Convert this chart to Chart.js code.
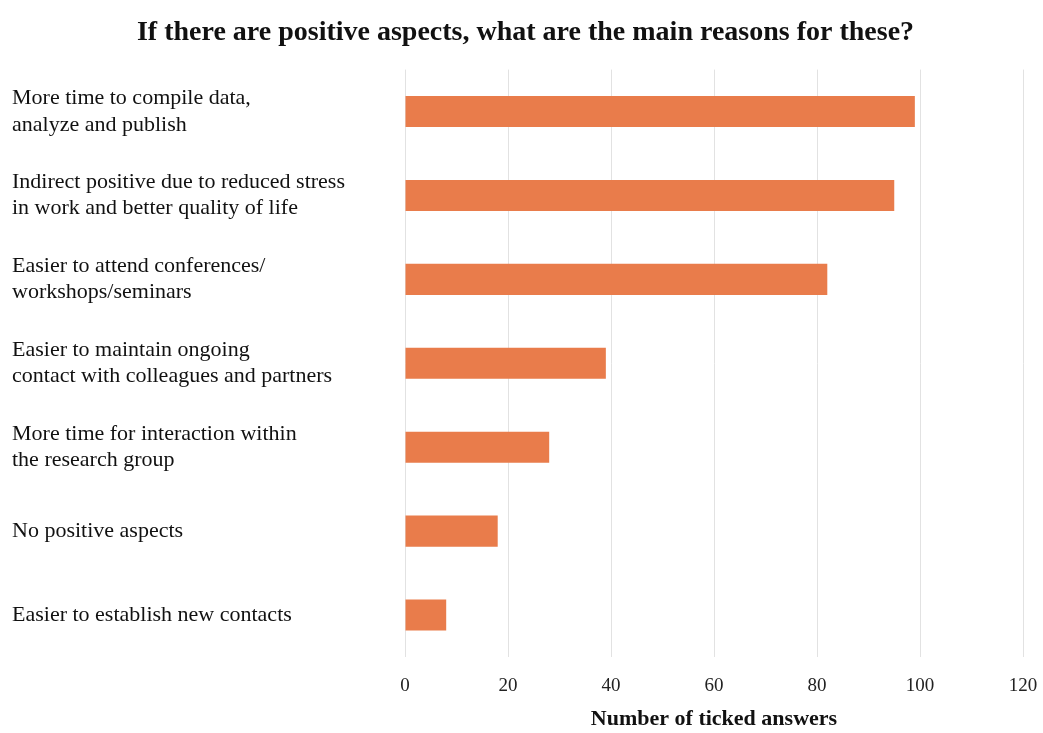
<!DOCTYPE html>
<html>
<head>
<meta charset="utf-8">
<script src="https://cdn.jsdelivr.net/npm/chart.js@4"></script>
<style>
  body { margin: 0; background: #fff; }
  #wrap { width: 1043px; height: 733px; }
</style>
</head>
<body>
<div id="wrap"><canvas id="chart" width="1043" height="733"></canvas></div>
<script>
// survey answers, in display order (top to bottom)
const reasons = [
    ['More time to compile data,', 'analyze and publish'],
    ['Indirect positive due to reduced stress', 'in work and better quality of life'],
    ['Easier to attend conferences/', 'workshops/seminars'],
    ['Easier to maintain ongoing', 'contact with colleagues and partners'],
    ['More time for interaction within', 'the research group'],
    'No positive aspects',
    'Easier to establish new contacts'
];
const tickedAnswers = [99, 95, 82, 39, 28, 18, 8];
const xTicks = [0, 20, 40, 60, 80, 100, 120];

const serif = '"Liberation Serif", "Times New Roman", serif';
const barColor = '#e97c4b';

new Chart(document.getElementById('chart'), {
    type: 'bar',
    data: {
        labels: reasons,
        datasets: [{
            data: tickedAnswers,
            backgroundColor: barColor,
            borderWidth: 0,
            categoryPercentage: 0.74,
            barPercentage: 0.5
        }]
    },
    options: {
        indexAxis: 'y',
        responsive: false,
        animation: false,
        layout: { padding: { left: 12, right: 4, bottom: 0, top: 0 } },
        plugins: {
            legend: { display: false },
            tooltip: { enabled: false },
            title: {
                display: true,
                text: 'If there are positive aspects, what are the main reasons for these?',
                color: '#111',
                font: { family: serif, size: 28, weight: 'bold' },
                padding: { top: 16, bottom: 20 }
            }
        },
        scales: {
            x: {
                min: 0,
                max: 120,
                afterBuildTicks: axis => { axis.ticks = xTicks.map(v => ({ value: v })); },
                // fixed band under the bars for numbers + axis title,
                // and a fixed right overhang for the "120" label
                afterFit: axis => {
                    axis.height = 76;
                    axis.paddingRight = 20;
                },
                grid: { color: '#e2e2e2', drawTicks: false },
                border: { display: false },
                ticks: {
                    color: '#222',
                    padding: 18,
                    font: { family: serif, size: 19 }
                },
                title: {
                    display: true,
                    text: 'Number of ticked answers',
                    color: '#111',
                    font: { family: serif, size: 22, weight: 'bold' },
                    padding: { top: 6, bottom: 0 }
                }
            },
            y: {
                grid: { display: false, drawTicks: false },
                border: { display: false },
                afterFit: axis => { axis.width = 393; },
                ticks: {
                    crossAlign: 'far',
                    color: '#111',
                    padding: 0,
                    font: { family: serif, size: 22, lineHeight: 1.2 }
                }
            }
        }
    }
});
</script>
</body>
</html>
